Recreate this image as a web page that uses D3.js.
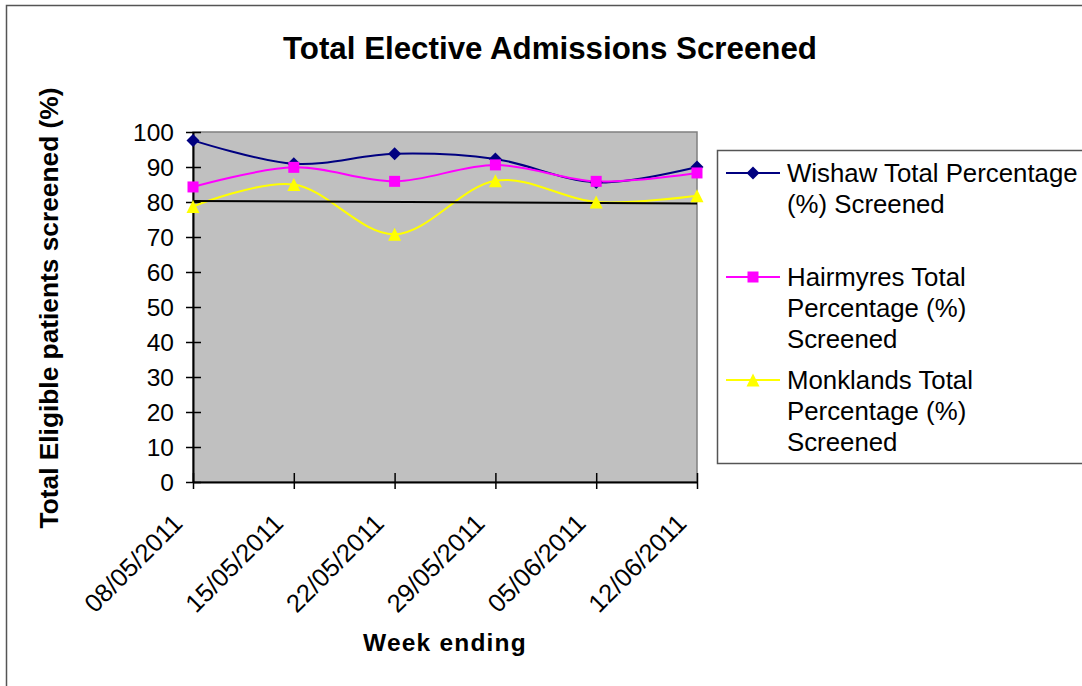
<!DOCTYPE html>
<html>
<head>
<meta charset="utf-8">
<script src="https://cdn.jsdelivr.net/npm/d3@7"></script>
<style>
  html, body { margin: 0; padding: 0; background: #fff; }
  svg { display: block; font-family: "Liberation Sans", Arial, sans-serif; }
</style>
</head>
<body>
<svg id="chart" width="1082" height="686"></svg>
<script>
const categories = ["08/05/2011", "15/05/2011", "22/05/2011", "29/05/2011", "05/06/2011", "12/06/2011"];
const wishaw = [97.6, 90.9, 93.8, 92.3, 85.6, 90.0];
const hairmyres = [84.3, 89.9, 85.9, 90.6, 85.9, 88.3];
const monklands = [78.7, 85.0, 70.8, 86.1, 80.0, 81.8];
const targetLine = [80.3, 79.6];
const yTicks = [0, 10, 20, 30, 40, 50, 60, 70, 80, 90, 100];
const seriesNames = [
  ["Wishaw Total Percentage", "(%) Screened"],
  ["Hairmyres Total", "Percentage (%)", "Screened"],
  ["Monklands Total", "Percentage (%)", "Screened"]
];

const svg = d3.select("#chart");
const plot = { left: 193, right: 697, top: 132, bottom: 482 };

const x = d3.scalePoint().domain(categories).range([plot.left, plot.right]);
const y = d3.scaleLinear().domain([0, 100]).range([plot.bottom, plot.top]);

// custom marker shapes (Excel-like)
const diamond = { draw(ctx) { const r = 6.5; ctx.moveTo(0, -r); ctx.lineTo(r, 0); ctx.lineTo(0, r); ctx.lineTo(-r, 0); ctx.closePath(); } };
const square = { draw(ctx) { const r = 5.5; ctx.moveTo(-r, -r); ctx.lineTo(r, -r); ctx.lineTo(r, r); ctx.lineTo(-r, r); ctx.closePath(); } };
const triangle = { draw(ctx) { const w = 6.5, h = 6.5; ctx.moveTo(0, -h); ctx.lineTo(w, h); ctx.lineTo(-w, h); ctx.closePath(); } };

// outer chart border
svg.append("rect").attr("x", 6.5).attr("y", 5.5).attr("width", 1100).attr("height", 700)
  .attr("fill", "#fff").attr("stroke", "#555").attr("stroke-width", 1.5);

// plot area
svg.append("rect").attr("x", plot.left).attr("y", plot.top)
  .attr("width", plot.right - plot.left).attr("height", plot.bottom - plot.top)
  .attr("fill", "#c0c0c0").attr("stroke", "#808080").attr("stroke-width", 1.5);

// title
svg.append("text").attr("x", 550).attr("y", 59).attr("text-anchor", "middle")
  .attr("font-size", 31.3).attr("font-weight", "bold").text("Total Elective Admissions Screened");

// y axis
const yAxis = svg.append("g").attr("transform", `translate(${plot.left},0)`)
  .call(d3.axisLeft(y).tickValues(yTicks).tickSize(0).tickPadding(0));
yAxis.select(".domain").attr("stroke", "#000").attr("stroke-width", 2);
yAxis.selectAll(".tick line").attr("x1", -7).attr("x2", 8).attr("stroke", "#000").attr("stroke-width", 1.5);
yAxis.selectAll(".tick text").attr("x", -19).attr("dy", "0.36em")
  .attr("font-size", 24.5).attr("fill", "#000").attr("font-family", "Liberation Sans, Arial, sans-serif");

// x axis
const xAxis = svg.append("g").attr("transform", `translate(0,${plot.bottom})`)
  .call(d3.axisBottom(x).tickSize(0).tickFormat(""));
xAxis.select(".domain").attr("stroke", "#000").attr("stroke-width", 2);
xAxis.selectAll(".tick line").attr("y1", -9).attr("y2", 7).attr("stroke", "#000").attr("stroke-width", 1.5);

svg.append("g").selectAll("text").data(categories).join("text")
  .attr("transform", d => `translate(${x(d) - 9},525) rotate(-45)`)
  .attr("text-anchor", "end").attr("font-size", 25.5).text(d => d);

// axis titles
svg.append("text").attr("transform", `translate(58,${(plot.top + plot.bottom) / 2 + 1}) rotate(-90)`)
  .attr("text-anchor", "middle").attr("font-size", 26.3).attr("font-weight", "bold")
  .text("Total Eligible patients screened (%)");
svg.append("text").attr("x", (plot.left + plot.right) / 2).attr("y", 651)
  .attr("text-anchor", "middle").attr("font-size", 24.5).attr("font-weight", "bold")
  .attr("letter-spacing", 1.2).text("Week ending");

// series
const line = d3.line().x((d, i) => x(categories[i])).y(d => y(d)).curve(d3.curveCatmullRom.alpha(0));
const series = [
  { values: wishaw, color: "#000080", marker: diamond },
  { values: hairmyres, color: "#ff00ff", marker: square },
  { values: monklands, color: "#ffff00", marker: triangle }
];

series.forEach(s => {
  svg.append("path").attr("d", line(s.values)).attr("fill", "none")
    .attr("stroke", s.color).attr("stroke-width", 2);
});

// target line
svg.append("line")
  .attr("x1", x(categories[0])).attr("y1", y(targetLine[0]))
  .attr("x2", x(categories[categories.length - 1])).attr("y2", y(targetLine[1]))
  .attr("stroke", "#000").attr("stroke-width", 2);

series.forEach(s => {
  svg.append("g").selectAll("path").data(s.values).join("path")
    .attr("transform", (d, i) => `translate(${x(categories[i])},${y(d)})`)
    .attr("d", d3.symbol().type(s.marker)())
    .attr("fill", s.color);
});

// legend
const legend = svg.append("g");
legend.append("rect").attr("x", 717.5).attr("y", 150.5).attr("width", 400).attr("height", 313)
  .attr("fill", "#fff").attr("stroke", "#555").attr("stroke-width", 1.5);
const legendY = [173, 277, 380];
const lineGap = 31;
series.forEach((s, i) => {
  const ly = legendY[i];
  legend.append("line").attr("x1", 726).attr("x2", 780).attr("y1", ly).attr("y2", ly)
    .attr("stroke", s.color).attr("stroke-width", 2);
  legend.append("path").attr("transform", `translate(753,${ly})`)
    .attr("d", d3.symbol().type(s.marker)()).attr("fill", s.color);
  seriesNames[i].forEach((t, j) => {
    legend.append("text").attr("x", 787).attr("y", ly + j * lineGap).attr("dy", "0.36em")
      .attr("font-size", 25.8).text(t);
  });
});
</script>
</body>
</html>
